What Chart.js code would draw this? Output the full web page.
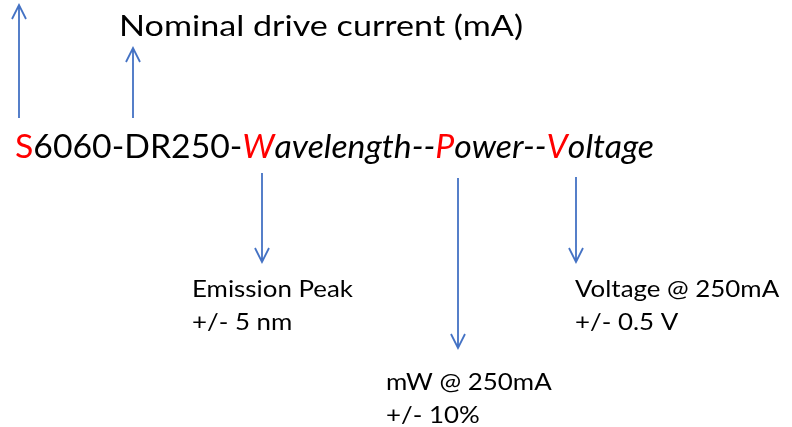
<!DOCTYPE html>
<html><head><meta charset="utf-8">
<script src="https://cdn.jsdelivr.net/npm/chart.js@4"></script>
<style>html,body{margin:0;padding:0;background:#fff}#wrap{width:792px;height:427px}</style>
</head><body><div id="wrap"><canvas id="c" width="792" height="427"></canvas></div>
<script>
// Arrows: x position, tail y, tip y (diagram units)
const arrowX    = [19, 133, 262, 458, 576];
const arrowTail = [118, 118, 173, 178, 177];
const arrowTip  = [5, 48, 262, 348, 262];

// Part-number code segments: text, highlighted?, italic?
const codeParts  = ['S', '6060-DR250-', 'W', 'avelength--', 'P', 'ower--', 'V', 'oltage'];
const codeRed    = [true, false, true, false, true, false, true, false];
const codeItalic = [false, false, true, true, true, true, true, true];

const titleText = 'Nominal drive current (mA)';
const labelLines = [
  ['Emission Peak', '+/- 5 nm'],
  ['mW @ 250mA', '+/- 10%'],
  ['Voltage @ 250mA', '+/- 0.5 V']
];
const labelX = [192, 386, 575];
const labelY = [297, 390, 297];

const BLUE = '#4472C4';
const FONT = 'Lato, "Open Sans", sans-serif';

const datasets = arrowX.map((x, i) => {
  const dir = arrowTip[i] < arrowTail[i] ? 1 : -1;
  const hw = 7, hh = 14;
  return {
    type: 'scatter', showLine: true, spanGaps: false,
    borderColor: BLUE, borderWidth: 1.8, pointRadius: 0,
    data: [
      {x: x, y: arrowTail[i]}, {x: x, y: arrowTip[i]}, {x: null, y: null},
      {x: x - hw, y: arrowTip[i] + dir * hh}, {x: x, y: arrowTip[i]}, {x: x + hw, y: arrowTip[i] + dir * hh}
    ]
  };
});

// draw text runs with given font size, horizontally squeezed to a target width
function drawRuns(ctx, runs, size, x, y, targetW) {
  let w = 0;
  runs.forEach(r => { ctx.font = (r.italic ? 'italic ' : '') + size + 'px ' + FONT; w += ctx.measureText(r.t).width; });
  const k = targetW ? targetW / w : 1;
  ctx.save();
  ctx.translate(x, y);
  ctx.scale(k, 1);
  let cx = 0;
  runs.forEach(r => {
    ctx.font = (r.italic ? 'italic ' : '') + size + 'px ' + FONT;
    ctx.fillStyle = r.color || '#000';
    ctx.fillText(r.t, cx, 0);
    cx += ctx.measureText(r.t).width;
  });
  ctx.restore();
  return k;
}

const textPlugin = {
  id: 'texts',
  afterDatasetsDraw(chart) {
    const ctx = chart.ctx, xs = chart.scales.x, ys = chart.scales.y;
    ctx.save();
    ctx.textBaseline = 'alphabetic';
    ctx.textAlign = 'left';
    drawRuns(ctx, [{t: titleText}], 28, xs.getPixelForValue(119), ys.getPixelForValue(36), 404);
    drawRuns(ctx, codeParts.map((t, i) => ({t, italic: codeItalic[i], color: codeRed[i] ? '#FF0000' : '#000'})),
      32, xs.getPixelForValue(15), ys.getPixelForValue(158), 639);
    // labels: squeeze factor from "Emission Peak"
    ctx.font = '23.5px ' + FONT;
    const k = 161 / ctx.measureText('Emission Peak').width;
    labelLines.forEach((lines, i) => {
      lines.forEach((t, j) => {
        ctx.font = '23.5px ' + FONT;
        const w = ctx.measureText(t).width * k;
        drawRuns(ctx, [{t}], 23.5, xs.getPixelForValue(labelX[i]), ys.getPixelForValue(labelY[i] + j * 33), w);
      });
    });
    ctx.restore();
  }
};

new Chart(document.getElementById('c'), {
  type: 'scatter',
  data: { datasets },
  options: {
    responsive: false, animation: false, devicePixelRatio: 1,
    layout: { padding: 0 },
    plugins: { legend: { display: false }, tooltip: { enabled: false } },
    scales: {
      x: { type: 'linear', min: 0, max: 792, display: false },
      y: { type: 'linear', min: 0, max: 427, reverse: true, display: false }
    }
  },
  plugins: [textPlugin]
});
</script>
</body></html>
